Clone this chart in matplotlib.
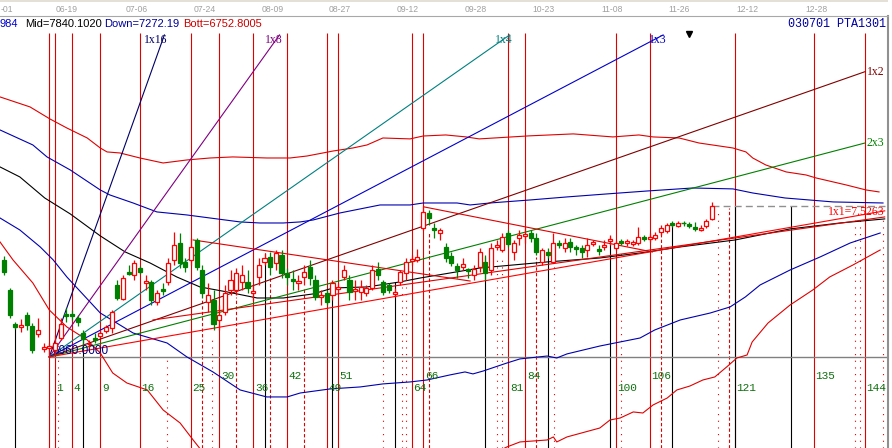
import numpy as np
import matplotlib.pyplot as plt

# ---- data -------------------------------------------------------------
first_bar = -8
opens = [7697, 7469, 7211, 7188, 7279, 7195, 7135, 7021, 7028, 7013, 7104, 7287, 7287, 7256, 7142, 7051,
         7104, 7119, 7157, 7180, 7507, 7401, 7606, 7583, 7636, 7522, 7530, 7378, 7477, 7530, 7697, 7826,
         7682, 7697, 7849, 7621, 7378, 7393, 7241, 7302, 7469, 7469, 7530, 7530, 7446, 7568, 7682, 7720,
         7674, 7735, 7598, 7553, 7522, 7568, 7644, 7545, 7416, 7446, 7431, 7477, 7568, 7545, 7461, 7454,
         7446, 7484, 7629, 7530, 7507, 7439, 7530, 7598, 7690, 7697, 7940, 8054, 7940, 7902, 7796, 7728,
         7651, 7644, 7629, 7583, 7644, 7682, 7621, 7796, 7773, 7902, 7758, 7864, 7880, 7902, 7864, 7682,
         7758, 7682, 7826, 7788, 7834, 7796, 7788, 7773, 7819, 7781, 7796, 7842, 7788, 7842, 7826, 7819,
         7826, 7872, 7857, 7864, 7910, 7918, 7978, 7956, 7978, 7971, 7948, 7925, 7956, 8009]
highs = [7728, 7484, 7226, 7249, 7302, 7218, 7256, 7066, 7066, 7127, 7256, 7332, 7317, 7279, 7165, 7089,
         7142, 7165, 7203, 7317, 7545, 7583, 7659, 7697, 7651, 7583, 7545, 7469, 7522, 7712, 7910, 7902,
         7712, 7864, 7864, 7659, 7522, 7469, 7355, 7507, 7621, 7636, 7659, 7621, 7507, 7712, 7750, 7758,
         7773, 7773, 7636, 7621, 7583, 7659, 7697, 7583, 7469, 7469, 7545, 7522, 7659, 7583, 7545, 7545,
         7507, 7659, 7682, 7545, 7522, 7484, 7621, 7712, 7735, 7781, 8108, 8077, 7978, 7940, 7826, 7758,
         7674, 7712, 7636, 7659, 7788, 7735, 7826, 7849, 7902, 7925, 7849, 7925, 7940, 7925, 7902, 7788,
         7788, 7902, 7849, 7864, 7864, 7811, 7811, 7864, 7849, 7811, 7849, 7887, 7849, 7857, 7857, 7849,
         7948, 7887, 7902, 7910, 7963, 7978, 7994, 7994, 7994, 7986, 7986, 7963, 8009, 8138]
lows = [7583, 7256, 7173, 7150, 7165, 6990, 7112, 6998, 6960, 6975, 7089, 7226, 7241, 7195, 7051, 7028,
        7066, 7104, 7142, 7142, 7393, 7393, 7583, 7545, 7591, 7469, 7355, 7355, 7431, 7507, 7659, 7636,
        7606, 7659, 7621, 7408, 7302, 7165, 7165, 7279, 7431, 7431, 7469, 7446, 7393, 7507, 7659, 7583,
        7621, 7560, 7507, 7469, 7469, 7507, 7507, 7393, 7355, 7355, 7393, 7446, 7545, 7393, 7393, 7393,
        7423, 7469, 7545, 7431, 7446, 7416, 7507, 7545, 7659, 7682, 7925, 7963, 7864, 7849, 7682, 7651,
        7560, 7621, 7560, 7545, 7606, 7545, 7583, 7773, 7758, 7796, 7697, 7811, 7826, 7834, 7735, 7659,
        7712, 7674, 7788, 7758, 7758, 7735, 7712, 7720, 7804, 7735, 7773, 7811, 7773, 7811, 7804, 7804,
        7811, 7842, 7834, 7849, 7887, 7902, 7948, 7948, 7956, 7940, 7918, 7918, 7940, 8001]
closes = [7606, 7279, 7188, 7203, 7203, 7013, 7165, 7036, 7043, 7066, 7211, 7271, 7271, 7226, 7097, 7059,
          7089, 7142, 7188, 7302, 7408, 7560, 7591, 7674, 7606, 7537, 7393, 7446, 7461, 7674, 7811, 7674,
          7644, 7796, 7644, 7446, 7431, 7211, 7279, 7446, 7545, 7598, 7583, 7484, 7461, 7659, 7712, 7644,
          7750, 7598, 7568, 7537, 7537, 7606, 7560, 7416, 7431, 7378, 7522, 7492, 7621, 7454, 7477, 7492,
          7484, 7621, 7583, 7454, 7469, 7454, 7606, 7682, 7705, 7720, 8062, 8016, 7925, 7925, 7712, 7674,
          7621, 7667, 7613, 7629, 7758, 7598, 7788, 7811, 7872, 7819, 7826, 7887, 7895, 7864, 7758, 7773,
          7735, 7826, 7811, 7826, 7796, 7781, 7758, 7811, 7834, 7766, 7811, 7857, 7826, 7826, 7842, 7834,
          7872, 7857, 7872, 7887, 7940, 7963, 7963, 7978, 7971, 7956, 7933, 7940, 7994, 8108]

# band curves (bar position, price)
up_red_x = [-8.7, -3.4, 0.1, 3.1, 6.7, 9.0, 10.2, 12.5, 16.0, 20.1, 24.3, 28.4, 32.4, 38.4, 42.5, 45.5,
            48.3, 50.1, 53.6, 56.1, 58.9, 63.7, 66.0, 70.0, 73.6, 75.9, 84.7, 92.5, 99.5, 104.1, 106.6,
            111.2, 114.7, 120.7, 123.0, 124.2, 126.5, 130.1, 133.6, 135.4, 140.7, 144.2, 146.5]
up_red_y = [8936, 8860, 8769, 8700, 8624, 8548, 8518, 8510, 8472, 8434, 8457, 8472, 8480, 8472, 8472, 8487,
            8510, 8525, 8548, 8571, 8624, 8617, 8639, 8647, 8632, 8617, 8640, 8655, 8632, 8647, 8632,
            8624, 8586, 8548, 8518, 8472, 8419, 8366, 8343, 8320, 8267, 8229, 8214]
up_blue_x = [-8.7, -2.9, -0.4, 3.7, 9.0, 10.7, 14.8, 19.0, 24.3, 29.6, 33.7, 37.2, 41.3, 44.3, 46.6, 51.3,
             54.9, 58.4, 63.7, 66.0, 72.0, 74.3, 77.8, 84.9, 91.4, 98.5, 105.5, 113.6, 120.7, 124.2,
             129.9, 138.4, 147.2]
up_blue_y = [8685, 8571, 8480, 8381, 8229, 8191, 8130, 8062, 8039, 8009, 7986, 7978, 7978, 7986, 8001, 8054,
             8085, 8115, 8115, 8130, 8130, 8115, 8130, 8153, 8176, 8199, 8221, 8244, 8237, 8206,
             8168, 8138, 8130]
mid_x = [-8.7, -5.2, -0.8, 3.7, 9.0, 13.4, 17.8, 22.5, 26.6, 31.4, 36.7, 41.3, 46.6, 50.1, 56.1, 61.9,
         65.5, 76.0, 87.9, 97.2, 104.3, 111.4, 121.1, 130.8, 139.6, 147.5]
mid_y = [8404, 8328, 8168, 8047, 7880, 7758, 7674, 7568, 7492, 7454, 7408, 7408, 7439, 7484, 7492, 7530,
         7560, 7636, 7682, 7712, 7750, 7796, 7849, 7933, 7978, 8009]
dn_blue_x = [-8.7, -5.2, -1.6, 0.7, 3.1, 9.0, 14.8, 20.8, 24.3, 28.9, 33.7, 38.4, 42.0, 44.3, 49.6, 54.9,
             58.9, 63.7, 66.7, 70.7, 73.4, 74.8, 76.6, 80.8, 83.1, 87.9, 89.6, 91.4, 97.2, 100.8, 104.3,
             106.9, 111.4, 116.7, 120.2, 122.9, 125.5, 130.8, 136.1, 141.4, 146.7]
dn_blue_y = [8016, 7925, 7796, 7697, 7568, 7294, 7142, 7066, 6960, 6846, 6709, 6656, 6656, 6686, 6717, 6732,
             6755, 6770, 6785, 6823, 6846, 6831, 6853, 6914, 6945, 6967, 6952, 6983, 7043, 7074, 7104,
             7165, 7241, 7294, 7340, 7416, 7507, 7621, 7720, 7826, 7902]
bot_red_x = [-8.7, -6.4, -2.9, 0.0, 3.1, 6.7, 9.0, 11.2, 13.7, 17.3, 20.1, 23.1, 25.4, 27.5, 37.2, 53.1,
             70.7, 80.8, 83.1, 87.9, 89.0, 89.6, 91.4, 97.2, 99.0, 100.8, 103.1, 104.8, 106.6, 109.1,
             110.8, 113.1, 115.4, 117.5, 119.6, 121.4, 123.2, 124.1, 126.9, 130.8, 134.8, 137.8, 141.9, 146.7]
bot_red_y = [7834, 7697, 7522, 7317, 7188, 7089, 6990, 6838, 6762, 6709, 6557, 6458, 6329, 6215, 6025, 5949,
             6063, 6276, 6314, 6329, 6352, 6314, 6352, 6420, 6481, 6496, 6542, 6534, 6595, 6648,
             6709, 6739, 6785, 6808, 6884, 6952, 6975, 7074, 7218, 7355, 7469, 7568, 7659, 7773]

# gann fan
fan_base = 6960
fan_unit = 7.5263
fan_ratios = [16, 8, 4, 3, 2, 1.5, 1]
fan_names = ["1x16", "1x8", "1x4", "1x3", "1x2", "2x3", "1x1=7.5263"]
fan_colors = ["#000066", "#800080", "#008080", "#0000cc", "#800000", "#008000", "#ff0000"]

# time cycle verticals
red_bars = [0, 1, 4, 9, 16, 25, 30, 36, 42, 49, 51, 64, 66, 81, 84, 100, 106, 121, 135, 144]
square_labels = [1, 4, 9, 16, 25, 36, 49, 64, 81, 100, 121, 144]
other_labels = [30, 42, 51, 66, 84, 106, 135]
black_bars = [-6, 6, 38, 50, 61, 77, 88, 99, 110, 121, 131]
black_tops = [7203, 7127, 7750, 7530, 7530, 7720, 7750, 7872, 7978, 8108, 8108]
dash_bars = [27, 33, 39, 45, 67, 86, 108, 120]
dash_tops = [7408, 7416, 7568, 7492, 7910, 7720, 7902, 8092]
dot_bars = [1.5, 20.8, 28.7, 58.9, 62.3, 63.0, 79.0, 79.9, 89.1, 100.9, 118.1, 142.3, 143.1, 147.2]
dot_tops = [6960, 6937, 7127, 7393, 7492, 7492, 7735, 7735, 7659, 7773, 8077, 8001, 8001, 8024]

# trend lines (bar, price) pairs
trend_lines = [((25.4, 7849), (74.3, 7537)),
               ((18.3, 7241), (147.5, 8024)),
               ((66.2, 8100), (106.5, 7758))]

date_labels = ["-01", "06-19", "07-06", "07-24", "08-09", "08-27", "09-12",
               "09-28", "10-23", "11-08", "11-26", "12-12", "12-28"]
date_pos = [-8.55, 3.1, 15.5, 27.5, 39.5, 51.3, 63.3, 75.3, 87.3, 99.3, 111.2, 123.2, 135.5]

# ---- figure -----------------------------------------------------------
W, H = 892, 448
fig = plt.figure(figsize=(W / 100, H / 100), dpi=100)
fig.patch.set_facecolor("white")
ax = fig.add_axes([0, 0, 888 / W, 432 / H])
ax.set_xlim(-8.70, 148.08)
ax.set_ylim(6268, 9551)
ax.set_xticks([])
ax.set_yticks([])
for s in ["left", "bottom"]:
    ax.spines[s].set_visible(False)
ax.spines["top"].set_color("#a8a8a8")
ax.spines["right"].set_color("#909090")
ax.spines["right"].set_linewidth(1.5)

ymin = 6268
line_top = 9422
lw = 0.8

# verticals
ax.vlines(red_bars, ymin, line_top, colors="#e00000", lw=lw, zorder=1)
ax.vlines(black_bars, ymin, black_tops, colors="black", lw=lw, zorder=1)
ax.vlines(dash_bars, ymin, dash_tops, colors="#e00000", lw=lw, linestyles=(0, (3, 2)), zorder=1)
ax.vlines(dot_bars, ymin, dot_tops, colors="#e00000", lw=lw, linestyles=(0, (1, 5)), zorder=1)

# horizontal reference lines
ax.hlines(fan_base, 0, 148.08, colors="#808080", lw=1.0, zorder=1)
ax.hlines(closes[-1], first_bar + len(closes) - 1, 147.6, colors="#909090", lw=1.0,
          linestyles=(0, (5, 3)), zorder=1)

# bands
ax.plot(up_red_x, up_red_y, color="#e00000", lw=lw, zorder=2)
ax.plot(up_blue_x, up_blue_y, color="#0000b0", lw=lw, zorder=2)
ax.plot(mid_x, mid_y, color="black", lw=lw, zorder=2)
ax.plot(dn_blue_x, dn_blue_y, color="#0000b0", lw=lw, zorder=2)
ax.plot(bot_red_x, bot_red_y, color="#e00000", lw=lw, zorder=2)

# gann fan
fan_top = 9407
for r, name, col in zip(fan_ratios, fan_names, fan_colors):
    slope = r * fan_unit
    end = min((fan_top - fan_base) / slope, 144 if r > 1 else 147.5)
    ax.plot([0, end], [fan_base, fan_base + slope * end], color=col, lw=lw, zorder=2)
    if end < 144:
        ax.text(end + 0.6, 9369, name, color=col, ha="right", va="center",
                family="Liberation Serif", fontsize=8.5, zorder=6)
    elif r > 1:
        ax.text(end + 0.3, fan_base + slope * end, name, color=col, ha="left", va="center",
                family="Liberation Serif", fontsize=8.5, zorder=6)
    else:
        ax.text(137.5, fan_base + slope * 144 + 20, name, color=col, ha="left", va="center",
                family="Liberation Serif", fontsize=8.5, zorder=6)

for (x0, y0), (x1, y1) in trend_lines:
    ax.plot([x0, x1], [y0, y1], color="#e00000", lw=lw, zorder=2)

ax.text(0.5, 7007, "6960.0000", color="#000080", ha="left", va="center",
        family="Liberation Sans", fontsize=8.5, zorder=2)

# candles
bars = np.arange(first_bar, first_bar + len(opens))
o = np.array(opens, float)
c = np.array(closes, float)
hi = np.array(highs, float)
lo = np.array(lows, float)
up = c >= o
cols = np.where(up, "#ff0000", "#008000")
ax.vlines(bars, lo, hi, colors=cols, lw=0.9, zorder=4)
body = np.abs(c - o)
bot = np.minimum(o, c)
big = body >= 12
small = ~big
ax.bar(bars[up & big], body[up & big], bottom=bot[up & big], width=0.72,
       facecolor="white", edgecolor="#ff0000", lw=0.9, zorder=5)
ax.bar(bars[~up & big], body[~up & big], bottom=bot[~up & big], width=0.72,
       facecolor="#008000", edgecolor="#008000", lw=0.9, zorder=5)
ax.hlines((o[small] + c[small]) / 2, bars[small] - 0.38, bars[small] + 0.38,
          colors=cols[small], lw=1.0, zorder=5)

# cycle number labels
for n in square_labels:
    ax.text(n + 0.3, 6724, str(n), color="#107010", ha="left", va="center",
            family="Liberation Mono", fontsize=8, zorder=6)
for n in other_labels:
    ax.text(n + 0.3, 6816, str(n), color="#107010", ha="left", va="center",
            family="Liberation Mono", fontsize=8, zorder=6)

ax.plot([113], [9415], marker="v", color="black", ms=4.5, zorder=6)

# header texts
ty = 1 - 24 / H
fig.text(0 / W, ty, "984", color="#0000cc", family="Liberation Sans", fontsize=8, va="center")
fig.text(25 / W, ty, "Mid=7840.1020", color="black", family="Liberation Sans", fontsize=8, va="center")
fig.text(104 / W, ty, "Down=7272.19", color="#000099", family="Liberation Sans", fontsize=8, va="center")
fig.text(183 / W, ty, "Bott=6752.8005", color="#cc0000", family="Liberation Sans", fontsize=8, va="center")
fig.text(886 / W, ty, "030701 PTA1301", color="#0000a0", family="Liberation Mono", fontsize=8.5,
         va="center", ha="right")

# date strip
axd = fig.add_axes([0, 432 / H, 888 / W, 16 / H])
axd.set_xlim(ax.get_xlim())
axd.set_ylim(0, 1)
axd.axis("off")
axd.axhspan(0.85, 1.0, color="#e4e0d8", lw=0)
for lab, p in zip(date_labels, date_pos):
    axd.text(p, 0.4, lab, color="#a0a0a0", ha="left" if lab == "-01" else "center", va="center",
             family="Liberation Sans", fontsize=6.2)

fig.savefig("out.png", dpi=100)
